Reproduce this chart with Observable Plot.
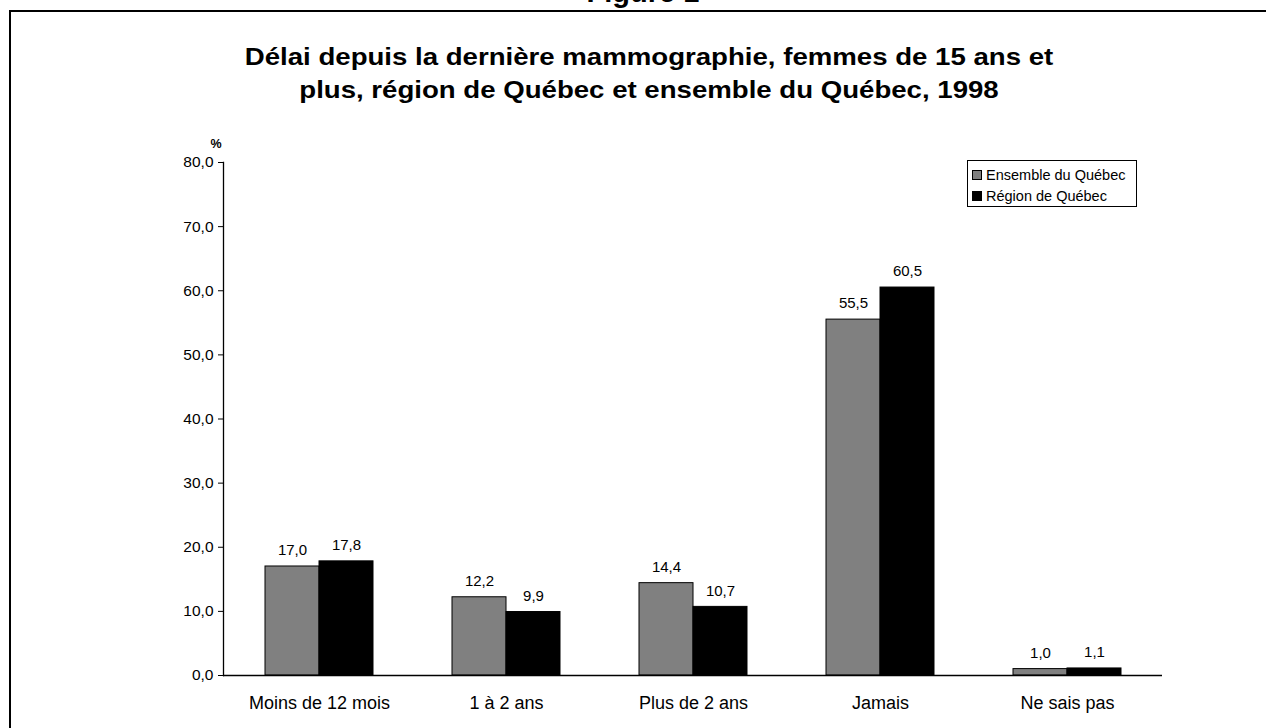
<!DOCTYPE html>
<html>
<head>
<meta charset="utf-8">
<script src="https://cdn.jsdelivr.net/npm/d3@7"></script>
<script src="https://cdn.jsdelivr.net/npm/@observablehq/plot@0.6"></script>
<style>
  html, body { margin: 0; padding: 0; background: #fff; }
  body { width: 1266px; height: 728px; overflow: hidden; font-family: "Liberation Sans", Arial, sans-serif; }
  #wrap { position: relative; width: 1266px; height: 728px; overflow: hidden; }
  #frame { position: absolute; left: 9px; top: 10px; width: 1300px; height: 800px; border-left: 2.5px solid #000; border-top: 2.5px solid #000; box-sizing: border-box; }
  #fig { position: absolute; left: 0; width: 1286px; top: -22px; text-align: center; font-weight: bold; font-size: 29px; line-height: 29px; color: #000; }
  #header { position: relative; height: 120px; }
  #title { position: absolute; left: 4px; width: 1290px; top: 40px; text-align: center; font-weight: bold; font-size: 24px; line-height: 33px; color: #000; transform: scaleX(1.15); transform-origin: 645px 0; }
  #chart { position: relative; }
  #legend { position: absolute; left: 967px; top: 160px; width: 170px; height: 47px; box-sizing: border-box; border: 1px solid #000; background: #fff; padding: 3px 0 0 4px; font-size: 14.5px; }
  .item { display: flex; align-items: center; height: 21px; white-space: nowrap; }
  .sw { width: 8px; height: 8px; border: 1px solid #000; margin-right: 4px; flex: none; }
</style>
</head>
<body>
<div id="wrap">
  <div id="frame"></div>
  <div id="fig">Figure 1</div>
  <div id="header">
    <div id="title">Délai depuis la dernière mammographie, femmes de 15 ans et<br>plus, région de Québec et ensemble du Québec, 1998</div>
  </div>
  <div id="chart"></div>
  <div id="legend"></div>
</div>
<script>
const categories = ["Moins de 12 mois", "1 à 2 ans", "Plus de 2 ans", "Jamais", "Ne sais pas"];
const seriesNames = ["Ensemble du Québec", "Région de Québec"];
const seriesColors = ["#808080", "#000000"];
const ensembleQuebec = [17.0, 12.2, 14.4, 55.5, 1.0];
const regionQuebec = [17.8, 9.9, 10.7, 60.5, 1.1];
const yTicks = [0, 10, 20, 30, 40, 50, 60, 70, 80];

const fmt = v => v.toFixed(1).replace(".", ",");

const data = [];
categories.forEach((c, i) => {
  data.push({cat: c, series: seriesNames[0], value: ensembleQuebec[i]});
  data.push({cat: c, series: seriesNames[1], value: regionQuebec[i]});
});
const d0 = data.filter(d => d.series === seriesNames[0]);
const d1 = data.filter(d => d.series === seriesNames[1]);

const half = 54;

const plot = Plot.plot({
  width: 1266,
  height: 608,
  marginLeft: 223,
  marginRight: 104,
  marginTop: 42,
  marginBottom: 53,
  style: {fontFamily: "'Liberation Sans', Arial, sans-serif", color: "#000", background: "transparent"},
  x: {domain: categories, paddingInner: 0.425, paddingOuter: 0.2125, align: 0.5, label: null},
  y: {domain: [0, 80], label: null},
  color: {domain: seriesNames, range: seriesColors},
  marks: [
    Plot.barY(d0, {x: "cat", y: "value", fill: "series", stroke: "#000", strokeWidth: 1, insetRight: half}),
    Plot.barY(d1, {x: "cat", y: "value", fill: "series", stroke: "#000", strokeWidth: 1, insetLeft: half}),
    Plot.text(d0, {x: "cat", y: "value", text: d => fmt(d.value), dx: -half / 2, dy: -16, fontSize: 15, fill: "#000"}),
    Plot.text(d1, {x: "cat", y: "value", text: d => fmt(d.value), dx: half / 2, dy: -16, fontSize: 15, fill: "#000"}),
    Plot.axisY({ticks: yTicks, tickFormat: fmt, tickSize: 5, tickPadding: 5, fontSize: 15.5, label: null, stroke: "#000"}),
    Plot.axisX({tickSize: 0, tickPadding: 21, fontSize: 18, label: null}),
    Plot.ruleY([0], {stroke: "#000", strokeWidth: 1.3}),
    Plot.frame({anchor: "left", stroke: "#000", strokeWidth: 1.3}),
    Plot.text(["%"], {frameAnchor: "top-left", dx: -13, dy: -23, fontSize: 12.5, fontWeight: "bold", fill: "#000"})
  ]
});
document.getElementById("chart").appendChild(plot);

const leg = document.getElementById("legend");
seriesNames.forEach((n, i) => {
  const it = document.createElement("div");
  it.className = "item";
  const sw = document.createElement("span");
  sw.className = "sw";
  sw.style.background = seriesColors[i];
  const t = document.createElement("span");
  t.textContent = n;
  it.appendChild(sw);
  it.appendChild(t);
  leg.appendChild(it);
});
</script>
</body>
</html>
